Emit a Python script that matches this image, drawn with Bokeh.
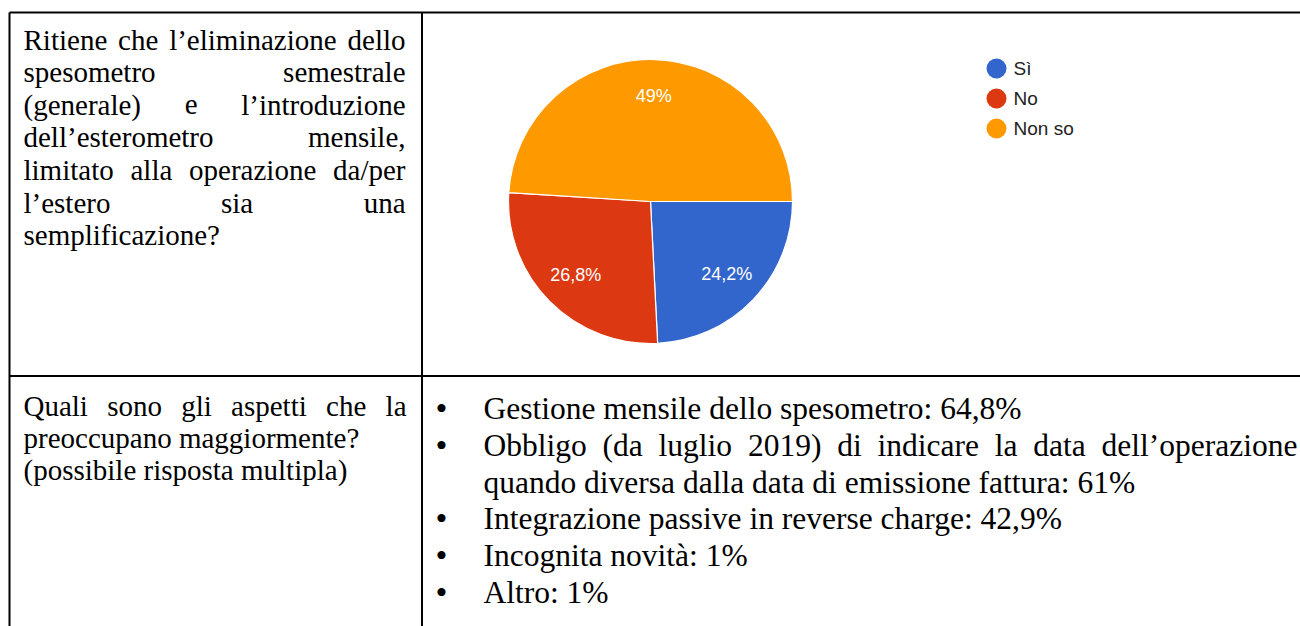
import math
from bokeh.plotting import figure
from bokeh.models import Range1d, ColumnDataSource
from bokeh.core.properties import value
from bokeh.embed import file_html
from bokeh.resources import INLINE

# ---------------- data ----------------
answers = ["Sì", "No", "Non so"]
answer_pct = [24.2, 26.8, 49.0]
answer_colors = ["#3366CC", "#DC3912", "#FF9900"]

question1_lines = [
    "Ritiene che l’eliminazione dello",
    "spesometro semestrale",
    "(generale) e l’introduzione",
    "dell’esterometro mensile,",
    "limitato alla operazione da/per",
    "l’estero sia una",
    "semplificazione?",
]
question1_justify = [True, True, True, True, True, True, False]

question2_lines = [
    "Quali sono gli aspetti che la",
    "preoccupano maggiormente?",
    "(possibile risposta multipla)",
]
question2_justify = [True, False, False]

aspects = [
    "Gestione mensile dello spesometro",
    "Obbligo (da luglio 2019) di indicare la data dell’operazione quando diversa dalla data di emissione fattura",
    "Integrazione passive in reverse charge",
    "Incognita novità",
    "Altro",
]
aspect_pct = [64.8, 61.0, 42.9, 1.0, 1.0]

# ---------------- layout helpers ----------------
W, H = 1300, 626


def X(sx):
    return sx


def Y(sy):
    return H - sy


def fmt_pct(v):
    s = ("%.1f" % v).replace(".", ",")
    if s.endswith(",0"):
        s = s[:-2]
    return s + "%"


# Times-Roman advance widths (per 1000 em)
TW = {" ": 250, "(": 333, ")": 333, ",": 250, ".": 250, "/": 278, ":": 278, "?": 444,
      "%": 833, "’": 333, "'": 180, "-": 333}
for c in "0123456789":
    TW[c] = 500
TW.update(dict(zip("ABCDEFGHIJKLMNOPQRSTUVWXYZ",
                   [722, 667, 667, 722, 611, 556, 722, 722, 333, 389, 722, 611, 889, 722, 722,
                    556, 722, 667, 556, 611, 722, 722, 944, 722, 722, 611])))
TW.update(dict(zip("abcdefghijklmnopqrstuvwxyz",
                   [444, 500, 444, 500, 444, 333, 500, 500, 278, 278, 500, 278, 778, 500, 500,
                    500, 500, 333, 389, 278, 500, 500, 722, 500, 500, 444])))
TW.update({"à": 444, "ì": 278, "è": 444, "ò": 500, "ù": 500})


def text_width(s, size):
    return sum(TW.get(c, 500) for c in s) / 1000.0 * size


p = figure(width=W, height=H, x_range=Range1d(0, W), y_range=Range1d(0, H),
           output_backend="svg", toolbar_location=None, min_border=0,
           x_axis_type=None, y_axis_type=None, outline_line_color=None,
           background_fill_color="white", border_fill_color="white")
p.grid.visible = False

SERIF = value("Liberation Serif")
SANS = value("Liberation Sans")

left_items = {"x": [], "y": [], "t": [], "s": []}
right_items = {"x": [], "y": [], "t": [], "s": []}


def put_line(text, x0, x1, base, size, justify):
    words = text.split(" ")
    if justify and len(words) > 1:
        total = sum(text_width(w, size) for w in words)
        gap = (x1 - x0 - total) / (len(words) - 1)
        x = x0
        for w in words[:-1]:
            left_items["x"].append(X(x)); left_items["y"].append(Y(base))
            left_items["t"].append(w); left_items["s"].append("%gpx" % size)
            x += text_width(w, size) + gap
        right_items["x"].append(X(x1)); right_items["y"].append(Y(base))
        right_items["t"].append(words[-1]); right_items["s"].append("%gpx" % size)
    else:
        left_items["x"].append(X(x0)); left_items["y"].append(Y(base))
        left_items["t"].append(text); left_items["s"].append("%gpx" % size)


def wrap(text, size, maxw):
    words = text.split(" ")
    lines, cur = [], ""
    for w in words:
        cand = w if not cur else cur + " " + w
        if text_width(cand, size) > maxw and cur:
            lines.append(cur)
            cur = w
        else:
            cur = cand
    lines.append(cur)
    return lines


# ---------------- table grid ----------------
GRID_LEFT, GRID_TOP, COL_X, ROW_Y = 9, 12, 421.5, 375.5
p.segment(x0=[X(GRID_LEFT), X(GRID_LEFT), X(COL_X), X(GRID_LEFT)],
          y0=[Y(GRID_TOP), Y(GRID_TOP), Y(GRID_TOP), Y(ROW_Y)],
          x1=[W, X(GRID_LEFT), X(COL_X), W],
          y1=[Y(GRID_TOP), 0, 0, Y(ROW_Y)],
          line_color="black", line_width=2)

# ---------------- left column questions ----------------
Q_SIZE = 29
for i, (ln, j) in enumerate(zip(question1_lines, question1_justify)):
    put_line(ln, 23, 405, 39 + 32.6 * i, Q_SIZE, j)
for i, (ln, j) in enumerate(zip(question2_lines, question2_justify)):
    put_line(ln, 23, 406, 405 + 32 * i, Q_SIZE, j)

# ---------------- bullet list ----------------
L_SIZE = 31.5
LIST_X0, LIST_X1 = 483, 1297
bullet_x, bullet_y = [], []
line_no = 0
for lab, v in zip(aspects, aspect_pct):
    full = "%s: %s" % (lab, fmt_pct(v))
    lines = wrap(full, L_SIZE, LIST_X1 - LIST_X0)
    bullet_x.append(X(441)); bullet_y.append(Y(408 + 36.8 * line_no))
    for k, ln in enumerate(lines):
        put_line(ln, LIST_X0, LIST_X1, 408 + 36.8 * line_no, L_SIZE, k < len(lines) - 1)
        line_no += 1

p.text(x=bullet_x, y=bullet_y, text=["•"] * len(bullet_x), text_font=SERIF,
       text_font_size=value("34px"), text_align="center", text_baseline="alphabetic",
       text_color="black")

p.text(x="x", y="y", text="t", text_font_size="s", source=ColumnDataSource(left_items),
       text_font=SERIF, text_align="left", text_baseline="alphabetic", text_color="black")
p.text(x="x", y="y", text="t", text_font_size="s", source=ColumnDataSource(right_items),
       text_font=SERIF, text_align="right", text_baseline="alphabetic", text_color="black")

# ---------------- pie ----------------
CX, CY, R = X(650), Y(201), 142
total = sum(answer_pct)
starts, ends, lx, ly, labels = [], [], [], [], []
cum = 0.0
for v in answer_pct:
    a0 = cum / total * 2 * math.pi
    cum += v
    a1 = cum / total * 2 * math.pi
    # clockwise from 3 o'clock
    starts.append(-a1)
    ends.append(-a0)
    mid = -(a0 + a1) / 2
    lx.append(CX + 0.74 * R * math.cos(mid))
    ly.append(CY + 0.74 * R * math.sin(mid))
    labels.append(fmt_pct(v))

pie_src = ColumnDataSource(dict(start=starts, end=ends, color=answer_colors))
p.wedge(x=CX, y=CY, radius=R, radius_units="screen", start_angle="start", end_angle="end",
        fill_color="color", line_color="white", line_width=1.2, source=pie_src)
p.text(x=lx, y=ly, text=labels, text_font=SANS, text_font_size=value("18px"),
       text_color="white", text_align="center", text_baseline="middle")

# ---------------- legend ----------------
leg_y = [Y(68 + 30 * i) for i in range(len(answers))]
p.scatter(x=[X(996)] * len(answers), y=leg_y, size=20, marker="circle",
          fill_color=answer_colors, line_color=None)
p.text(x=[X(1013)] * len(answers), y=leg_y, text=answers, text_font=SANS,
       text_font_size=value("19px"), text_color="#222222", text_align="left",
       text_baseline="middle")

open("out.html", "w").write(file_html(p, INLINE))
